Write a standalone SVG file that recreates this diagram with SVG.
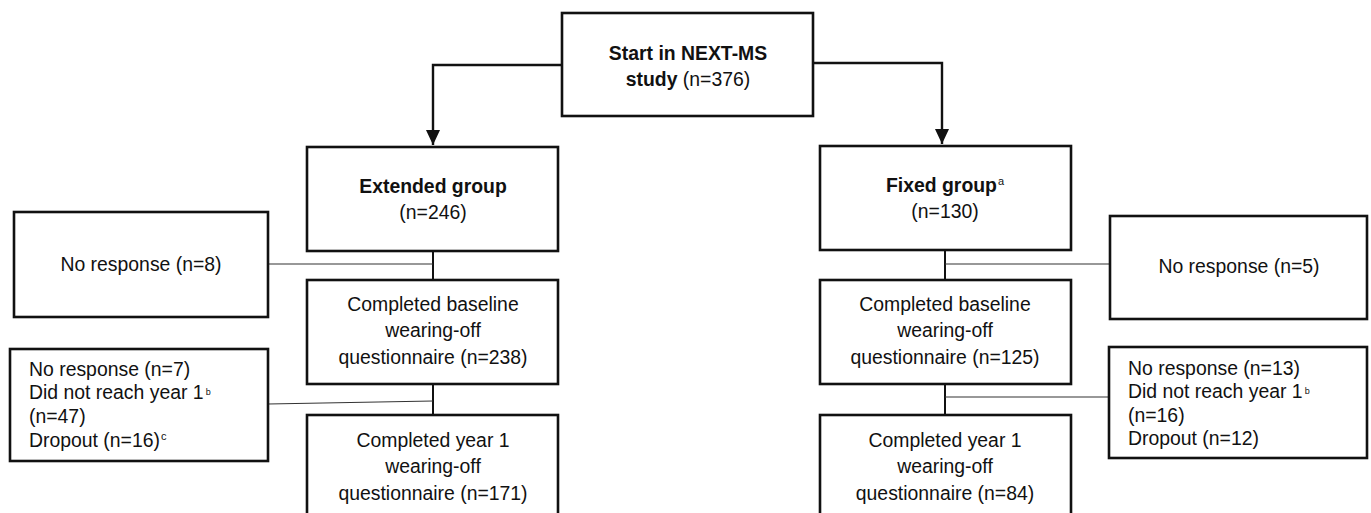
<svg xmlns="http://www.w3.org/2000/svg" width="1371" height="513" viewBox="0 0 1371 513">
<style>
  .box { fill: #ffffff; stroke: #111111; stroke-width: 2.6; }
  .t { font-family: "Liberation Sans", Arial, sans-serif; font-size: 19.4px; fill: #111111; }
  .c { text-anchor: middle; }
  .b { font-weight: bold; }
  .sup { font-size: 11px; }
  .supb { font-size: 9px; }
  .arrow { fill: none; stroke: #111111; stroke-width: 2.4; }
  .link { fill: none; stroke: #111111; stroke-width: 2; }
  .thin { fill: none; stroke: #333333; stroke-width: 1.2; }
</style>
<defs>
  <marker id="ah" markerUnits="userSpaceOnUse" markerWidth="16" markerHeight="16" viewBox="0 0 16 16" refX="15" refY="8" orient="auto">
    <path d="M0,1 L15,8 L0,15 Z" fill="#111111"/>
  </marker>
</defs>
<rect width="1371" height="513" fill="#ffffff"/>

<g id="connectors">
  <path class="arrow" d="M562,65 H433 V145" marker-end="url(#ah)"/>
  <path class="arrow" d="M813,63 H942 V144" marker-end="url(#ah)"/>
  <line class="link" x1="433" y1="251" x2="433" y2="280"/>
  <line class="link" x1="433" y1="384" x2="433" y2="415"/>
  <line class="link" x1="945" y1="250" x2="945" y2="280"/>
  <line class="link" x1="945" y1="384" x2="945" y2="415"/>
  <line class="thin" x1="268" y1="264" x2="433" y2="264"/>
  <line class="thin" x1="268" y1="404" x2="433" y2="401"/>
  <line class="thin" x1="945" y1="264" x2="1110" y2="264"/>
  <line class="thin" x1="945" y1="397" x2="1109" y2="397"/>
</g>

<g id="start">
  <rect class="box" x="562" y="13" width="251" height="103" stroke-width="3"/>
  <text class="t c b" x="688" y="60">Start in NEXT-MS</text>
  <text class="t c" x="688" y="86"><tspan class="b">study</tspan> (n=376)</text>
</g>

<g id="extended">
  <rect class="box" x="307" y="147" width="251" height="104"/>
  <text class="t c b" x="433" y="193">Extended group</text>
  <text class="t c" x="433" y="219">(n=246)</text>
</g>

<g id="fixed">
  <rect class="box" x="820" y="146" width="251" height="104"/>
  <text class="t c" x="945" y="192"><tspan class="b">Fixed group</tspan><tspan class="sup" dx="1" dy="-7">a</tspan></text>
  <text class="t c" x="945" y="218">(n=130)</text>
</g>

<g id="noresp-left">
  <rect class="box" x="14" y="212" width="254" height="105"/>
  <text class="t c" x="141" y="271">No response (n=8)</text>
</g>

<g id="noresp-right">
  <rect class="box" x="1110" y="216" width="257" height="103"/>
  <text class="t c" x="1239" y="273">No response (n=5)</text>
</g>

<g id="baseline-ext">
  <rect class="box" x="307" y="280" width="251" height="104"/>
  <text class="t c" x="433" y="311">Completed baseline</text>
  <text class="t c" x="433" y="337">wearing-off</text>
  <text class="t c" x="433" y="364">questionnaire (n=238)</text>
</g>

<g id="baseline-fix">
  <rect class="box" x="820" y="280" width="251" height="104"/>
  <text class="t c" x="945" y="311">Completed baseline</text>
  <text class="t c" x="945" y="337">wearing-off</text>
  <text class="t c" x="945" y="364">questionnaire (n=125)</text>
</g>

<g id="loss-left">
  <rect class="box" x="10" y="349" width="258" height="112" stroke-width="2"/>
  <text class="t" x="29" y="376">No response (n=7)</text>
  <text class="t" x="29" y="399">Did not reach year 1<tspan class="supb" dx="2" dy="-4">b</tspan></text>
  <text class="t" x="29" y="423">(n=47)</text>
  <text class="t" x="29" y="447">Dropout (n=16)<tspan class="sup" dx="1" dy="-7">c</tspan></text>
</g>

<g id="loss-right">
  <rect class="box" x="1109" y="347" width="258" height="111" stroke-width="2"/>
  <text class="t" x="1128" y="375">No response (n=13)</text>
  <text class="t" x="1128" y="398">Did not reach year 1<tspan class="supb" dx="2" dy="-4">b</tspan></text>
  <text class="t" x="1128" y="422">(n=16)</text>
  <text class="t" x="1128" y="445">Dropout (n=12)</text>
</g>

<g id="year1-ext">
  <rect class="box" x="307" y="415" width="251" height="110"/>
  <text class="t c" x="433" y="447">Completed year 1</text>
  <text class="t c" x="433" y="473">wearing-off</text>
  <text class="t c" x="433" y="500">questionnaire (n=171)</text>
</g>

<g id="year1-fix">
  <rect class="box" x="820" y="415" width="251" height="110"/>
  <text class="t c" x="945" y="447">Completed year 1</text>
  <text class="t c" x="945" y="473">wearing-off</text>
  <text class="t c" x="945" y="500">questionnaire (n=84)</text>
</g>
</svg>
